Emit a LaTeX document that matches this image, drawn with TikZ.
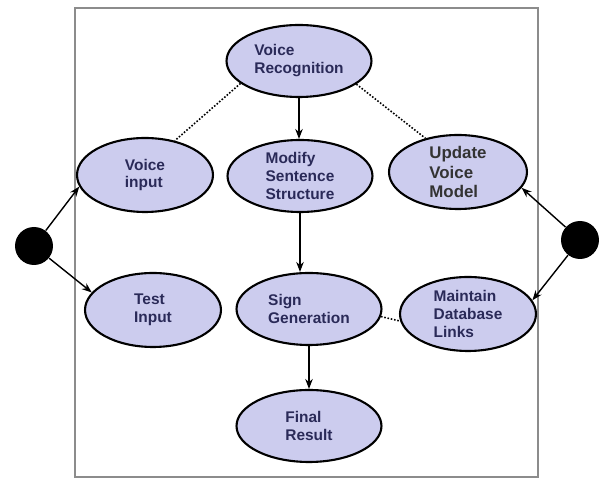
\documentclass[tikz,border=0pt]{standalone}
\usepackage{fontspec}
\setmainfont{Liberation Sans}
\usetikzlibrary{shapes.geometric, arrows.meta, positioning}
\definecolor{usecasefill}{RGB}{204,204,238}
\definecolor{usecasetext}{RGB}{42,42,88}
\definecolor{framegray}{RGB}{140,140,140}

\begin{document}
\begin{tikzpicture}[x=0.02cm, y=-0.02cm,
    usecase/.style={ellipse, draw, line width=1.2pt, fill=usecasefill,
                    inner sep=0pt, minimum width=2.9cm, minimum height=1.44cm,
                    align=left, text=usecasetext,
                    font=\fontsize{8.8}{10.2}\selectfont\bfseries},
    actor/.style={circle, fill=black, minimum size=0.76cm, inner sep=0pt},
    arr/.style={-{Stealth[length=2mm]}, line width=0.8pt},
    link/.style={densely dotted, line width=0.9pt}
  ]
  \useasboundingbox (0,0) rectangle (600,479);
  \draw[framegray, line width=1pt] (75,8) rectangle (538,477);

  \node[usecase] (vr) at (299,61) {Voice\\Recognition};
  \node[usecase, minimum width=2.72cm, minimum height=1.48cm]
    (vin) at (145,175) {Voice\\input};
  \node[usecase] (mss) at (300,176) {Modify\\Sentence\\Structure};
  \node[usecase, minimum width=2.76cm, minimum height=1.48cm, text=black!80,
        font=\fontsize{9.6}{11.2}\selectfont\bfseries]
    (uvm) at (458,172) {Update\\Voice\\Model};
  \node[usecase, minimum width=2.72cm, minimum height=1.48cm]
    (tin) at (153,310) {Test\\Input};
  \node[usecase] (sg) at (309,309) {Sign\\Generation};
  \node[usecase, minimum width=2.72cm, minimum height=1.48cm]
    (mdl) at (468,314) {Maintain\\Database\\Links};
  \node[usecase] (fr) at (309,426) {Final\\Result};

  \node[actor] (user) at (34,246) {};
  \node[actor] (admin) at (580,240) {};

  \draw[arr] (user) -- (vin.190);
  \draw[arr] (user) -- (tin.164);
  \draw[arr] (admin) -- (uvm.346);
  \draw[arr] (admin) -- (mdl.12);

  \draw[link] (vr.201) -- (vin.49);
  \draw[link] (vr.338) -- (uvm.134);
  \draw[link] (sg.-6) -- (mdl.186);

  \draw[arr] (vr.south) -- (vr.south |- mss.north);
  \draw[arr] (mss.south) -- (mss.south |- sg.north);
  \draw[arr] (sg.south) -- (fr.north);
\end{tikzpicture}
\end{document}
